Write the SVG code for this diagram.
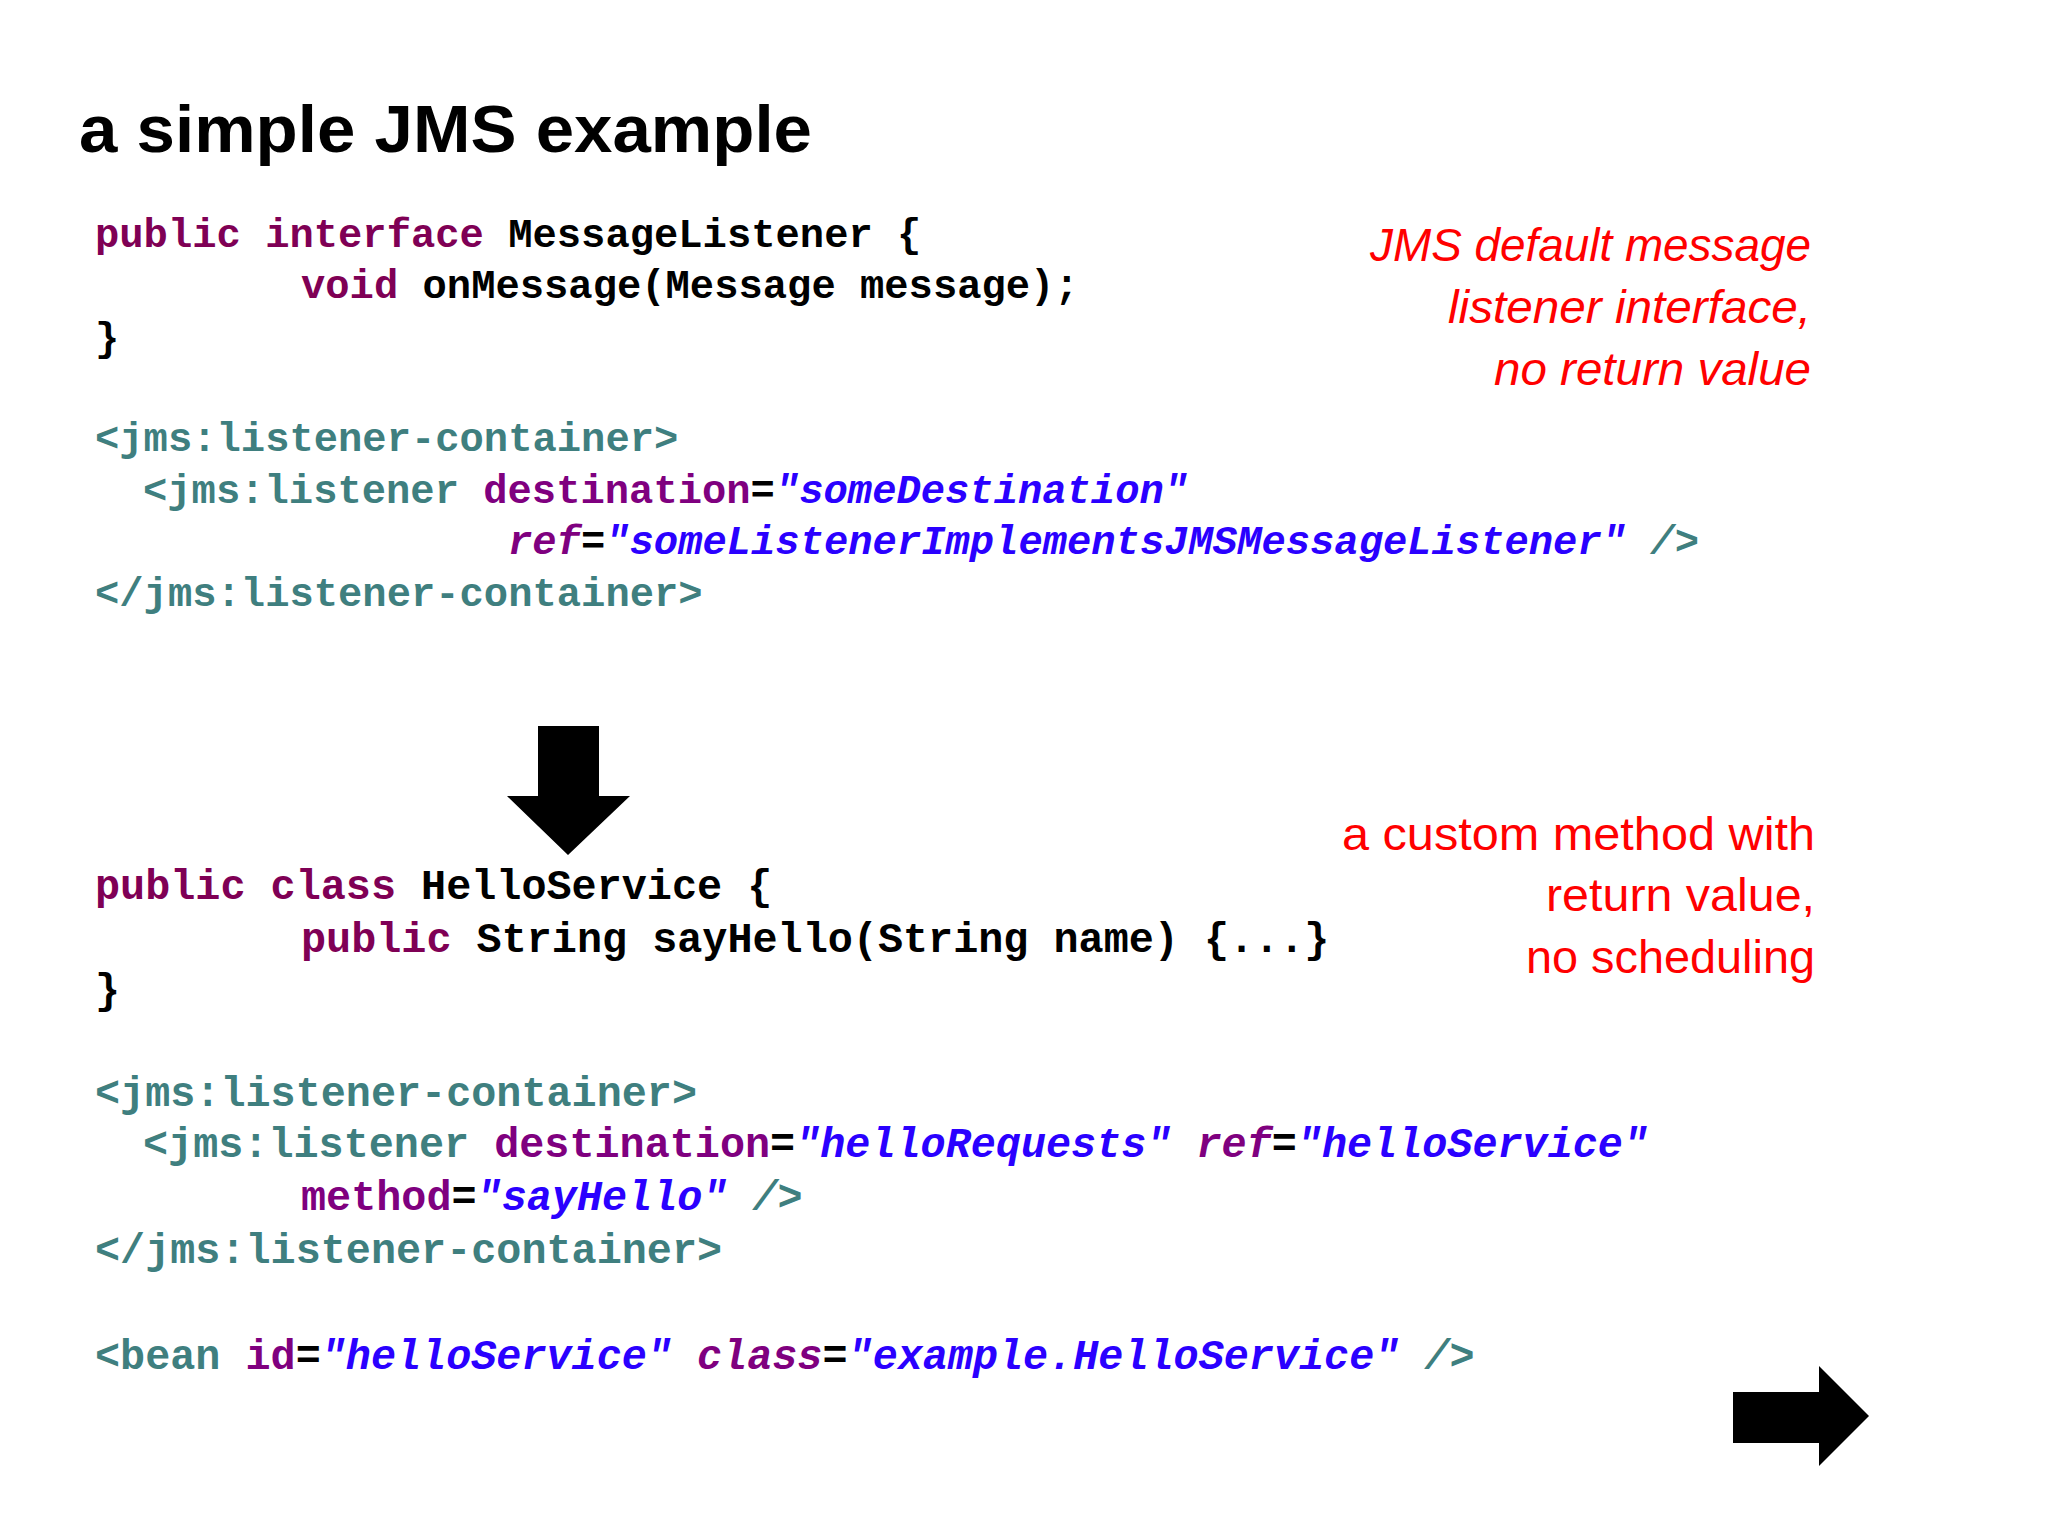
<svg xmlns="http://www.w3.org/2000/svg" width="2048" height="1536" viewBox="0 0 2048 1536">
<style>
.c{font-family:"Liberation Mono","DejaVu Sans Mono",monospace;font-weight:bold;fill:#000;white-space:pre}
.u{font-size:40.5px}.l{font-size:41.8px}
.k{fill:#7f0055}.t{fill:#3f7f7f}.a{fill:#7f007f}.v{fill:#2a00ff;font-style:italic}
.n{font-family:"Liberation Sans",Arial,sans-serif;font-size:46px;fill:#ff0000;text-anchor:end}
</style>
<rect width="2048" height="1536" fill="#fff"/>
<text x="79" y="152" font-family="Liberation Sans,Arial,sans-serif" font-weight="bold" font-size="66" textLength="733" lengthAdjust="spacingAndGlyphs">a simple JMS example</text>
<g id="code1">
<text class="c u" x="95" y="247"><tspan class="k">public interface</tspan> MessageListener {</text>
<text class="c u" x="301" y="298"><tspan class="k">void</tspan> onMessage(Message message);</text>
<text class="c u" x="95" y="351">}</text>
<text class="c u" x="95" y="451"><tspan class="t">&lt;jms:listener-container&gt;</tspan></text>
<text class="c u" x="143" y="503"><tspan class="t">&lt;jms:listener</tspan> <tspan class="a">destination</tspan>=<tspan class="v">"someDestination"</tspan></text>
<text class="c u" x="508" y="554"><tspan class="a" font-style="italic">ref</tspan>=<tspan class="v">"someListenerImplementsJMSMessageListener"</tspan> <tspan class="t" font-style="italic">/&gt;</tspan></text>
<text class="c u" x="95" y="606"><tspan class="t">&lt;/jms:listener-container&gt;</tspan></text>
</g>
<g id="code2">
<text class="c l" x="95" y="899"><tspan class="k">public class</tspan> HelloService {</text>
<text class="c l" x="301" y="952"><tspan class="k">public</tspan> String sayHello(String name) {...}</text>
<text class="c l" x="95" y="1003">}</text>
<text class="c l" x="95" y="1106"><tspan class="t">&lt;jms:listener-container&gt;</tspan></text>
<text class="c l" x="143" y="1157"><tspan class="t">&lt;jms:listener</tspan> <tspan class="a">destination</tspan>=<tspan class="v">"helloRequests"</tspan> <tspan class="a" font-style="italic">ref</tspan>=<tspan class="v">"helloService"</tspan></text>
<text class="c l" x="301" y="1210"><tspan class="a">method</tspan>=<tspan class="v">"sayHello"</tspan> <tspan class="t" font-style="italic">/&gt;</tspan></text>
<text class="c l" x="95" y="1263"><tspan class="t">&lt;/jms:listener-container&gt;</tspan></text>
<text class="c l" x="95" y="1369"><tspan class="t">&lt;bean</tspan> <tspan class="a">id</tspan>=<tspan class="v">"helloService"</tspan> <tspan class="a" font-style="italic">class</tspan>=<tspan class="v">"example.HelloService"</tspan> <tspan class="t" font-style="italic">/&gt;</tspan></text>
</g>
<g id="note1" font-style="italic">
<text class="n" x="1811" y="261" textLength="441" lengthAdjust="spacingAndGlyphs">JMS default message</text>
<text class="n" x="1811" y="323" textLength="363" lengthAdjust="spacingAndGlyphs">listener interface,</text>
<text class="n" x="1811" y="385" textLength="317" lengthAdjust="spacingAndGlyphs">no return value</text>
</g>
<g id="note2">
<text class="n" x="1815" y="850" textLength="473" lengthAdjust="spacingAndGlyphs">a custom method with</text>
<text class="n" x="1815" y="911" textLength="269" lengthAdjust="spacingAndGlyphs">return value,</text>
<text class="n" x="1815" y="973" textLength="289" lengthAdjust="spacingAndGlyphs">no scheduling</text>
</g>
<g id="arrows">
<polygon points="538,726 599,726 599,796 630,796 568,855 507,796 538,796" fill="#000"/>
<polygon points="1733,1392 1819,1392 1819,1366 1869,1416 1819,1466 1819,1443 1733,1443" fill="#000"/>
</g>
</svg>
